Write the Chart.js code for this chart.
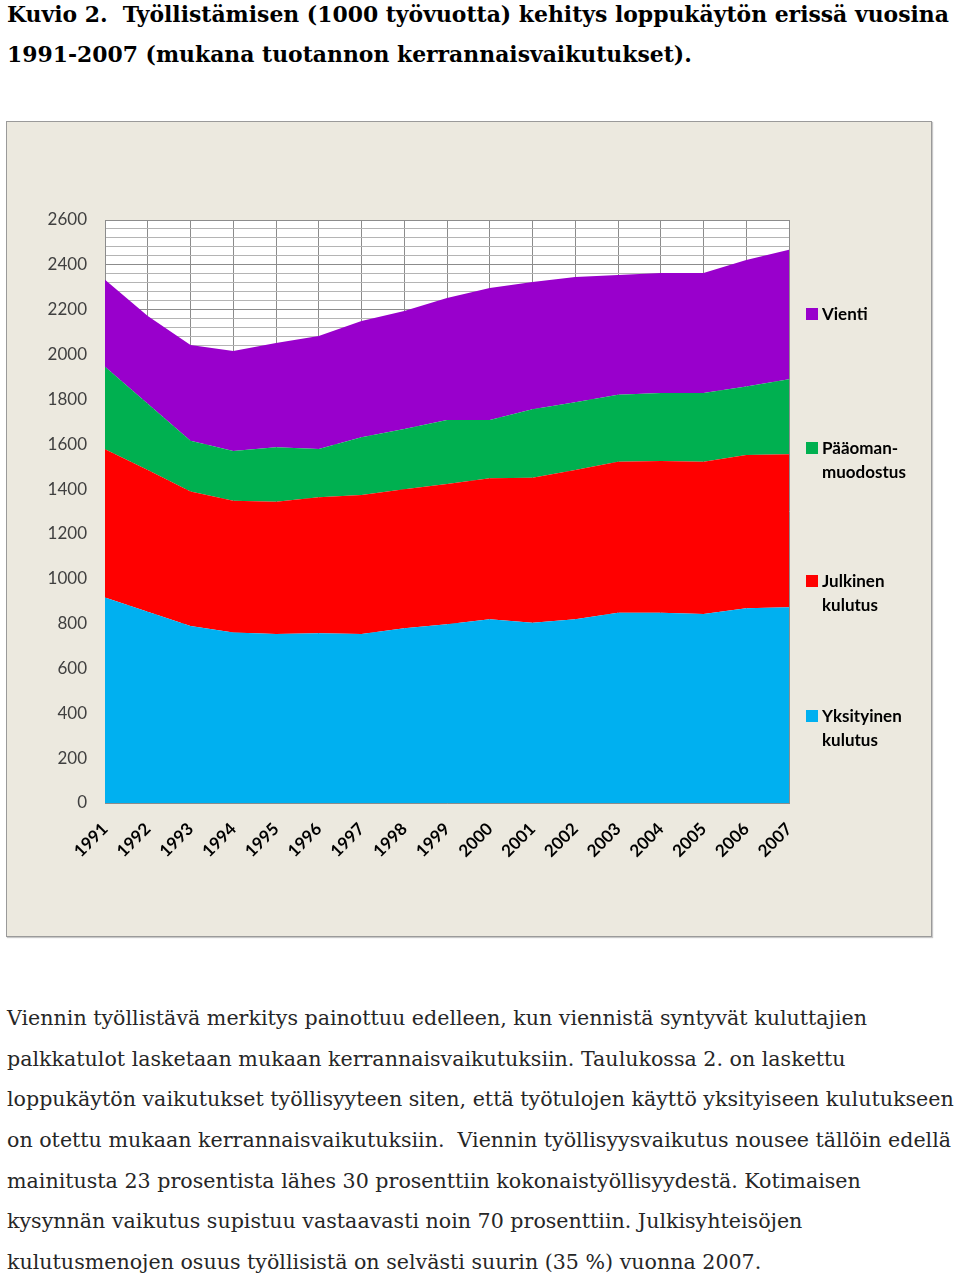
<!DOCTYPE html>
<html lang="fi">
<head>
<meta charset="UTF-8">
<title>Kuvio 2</title>
<script src="https://cdn.jsdelivr.net/npm/chart.js@4.4.1/dist/chart.umd.min.js"></script>
<style>
  body { margin: 0; background: #fff; width: 960px; height: 1277px; position: relative; overflow: hidden; }
  .title { position: absolute; left: 7px; font-family: "DejaVu Serif", serif; font-weight: bold; font-size: 21.9px; color: #000; white-space: nowrap; }
  #frame { position: absolute; left: 6px; top: 121px; width: 924px; height: 814px; border: 1px solid #9a9a9a; background: #ECE9DF; box-shadow: 1px 1px 1px #c8c8c8; }
  #chart { position: absolute; left: 0; top: 0; }
  .leg { position: absolute; left: 815px; font-family: Lato, sans-serif; font-weight: bold; font-size: 17px; line-height: 24px; color: #000; }
  .leg span.sw { position: absolute; left: -16px; top: 6px; width: 12px; height: 12px; }
  .body { position: absolute; left: 7px; font-family: "DejaVu Serif", serif; font-size: 20.6px; color: #262626; white-space: nowrap; }
</style>
</head>
<body>
<div class="title" style="top:1px">Kuvio 2.&nbsp; Työllistämisen (1000 työvuotta) kehitys loppukäytön erissä vuosina</div>
<div class="title" style="top:41px">1991-2007 (mukana tuotannon kerrannaisvaikutukset).</div>

<div id="frame">
  <canvas id="chart" width="924" height="814"></canvas>
  <div id="legend"></div>
</div>

<div class="body" style="top:1006px">Viennin työllistävä merkitys painottuu edelleen, kun viennistä syntyvät kuluttajien</div>
<div class="body" style="top:1047px">palkkatulot lasketaan mukaan kerrannaisvaikutuksiin. Taulukossa 2. on laskettu</div>
<div class="body" style="top:1087px">loppukäytön vaikutukset työllisyyteen siten, että työtulojen käyttö yksityiseen kulutukseen</div>
<div class="body" style="top:1128px">on otettu mukaan kerrannaisvaikutuksiin.&nbsp; Viennin työllisyysvaikutus nousee tällöin edellä</div>
<div class="body" style="top:1169px">mainitusta 23 prosentista lähes 30 prosenttiin kokonaistyöllisyydestä. Kotimaisen</div>
<div class="body" style="top:1209px">kysynnän vaikutus supistuu vastaavasti noin 70 prosenttiin. Julkisyhteisöjen</div>
<div class="body" style="top:1250px">kulutusmenojen osuus työllisistä on selvästi suurin (35 %) vuonna 2007.</div>

<script>
const years = ['1991','1992','1993','1994','1995','1996','1997','1998','1999',
               '2000','2001','2002','2003','2004','2005','2006','2007'];
const yksityinen = [917, 853, 789, 760, 754, 757, 754, 779, 797, 819, 804, 819, 849, 849, 843, 868, 873];
const julkinen   = [661, 632, 600, 588, 590, 606, 620, 620, 626, 629, 647, 666, 673, 676, 679, 684, 682];
const paaoman    = [368, 296, 226, 222, 242, 216, 257, 269, 285, 260, 305, 302, 299, 304, 306, 305, 335];
const vienti     = [387, 391, 428, 446, 466, 504, 519, 526, 544, 589, 568, 559, 534, 535, 536, 565, 577];
const yMax = 2600;
const yLabelStep = 200;
const yGridStep = 40;

const series = [
  { label: 'Yksityinen kulutus', lines: ['Yksityinen', 'kulutus'], data: yksityinen, color: '#00B0F0', fill: 'origin' },
  { label: 'Julkinen kulutus', lines: ['Julkinen', 'kulutus'], data: julkinen, color: '#FF0000', fill: '-1' },
  { label: 'Pääomanmuodostus', lines: ['Pääoman-', 'muodostus'], data: paaoman, color: '#00B050', fill: '-1' },
  { label: 'Vienti', lines: ['Vienti'], data: vienti, color: '#9900CC', fill: '-1' }
];

// legend items sit beside the plot, spread down the right side
const legendTops = [582, 447, 314, 180];
const leg = document.getElementById('legend');
series.forEach((s, i) => {
  const d = document.createElement('div');
  d.className = 'leg';
  d.style.top = legendTops[i] + 'px';
  d.innerHTML = '<span class="sw" style="background:' + s.color + '"></span>' + s.lines.join('<br>');
  leg.appendChild(d);
});

const ctx = document.getElementById('chart').getContext('2d');
new Chart(ctx, {
  type: 'line',
  data: {
    labels: years,
    datasets: series.map(s => ({
      label: s.label,
      data: s.data,
      backgroundColor: s.color,
      borderColor: s.color,
      borderWidth: 0,
      fill: s.fill,
      pointRadius: 0,
      tension: 0
    }))
  },
  plugins: [{
    id: 'plotBg',
    beforeDraw(chart) {
      const a = chart.chartArea;
      chart.ctx.save();
      chart.ctx.fillStyle = '#ffffff';
      chart.ctx.fillRect(a.left, a.top, a.right - a.left, a.bottom - a.top);
      chart.ctx.restore();
    }
  }],
  options: {
    responsive: false,
    animation: false,
    events: [],
    layout: { padding: { top: 98, right: 142, left: 0, bottom: 0 } },
    plugins: { legend: { display: false }, tooltip: { enabled: false } },
    scales: {
      x: {
        offset: false,
        afterFit(scale) { scale.height = 133; },
        grid: { color: '#8c8c8c', drawTicks: false, lineWidth: 1 },
        border: { color: '#8c8c8c' },
        ticks: {
          autoSkip: false,
          maxRotation: 45, minRotation: 45,
          padding: 16,
          color: '#000',
          font: { family: 'Lato', size: 17, weight: 'bold' }
        }
      },
      y: {
        stacked: true,
        min: 0, max: yMax,
        afterFit(scale) { scale.width = 98; },
        grid: {
          drawTicks: false,
          lineWidth: 1,
          color: c => (c.tick && c.tick.value % yLabelStep === 0) ? '#8c8c8c' : '#b4b4b4'
        },
        border: { color: '#8c8c8c' },
        ticks: {
          stepSize: yGridStep,
          maxTicksLimit: 200,
          autoSkip: false,
          padding: 18,
          color: '#404040',
          font: { family: 'Lato', size: 17 },
          callback: v => (v % yLabelStep === 0) ? String(v) : ''
        }
      }
    }
  }
});
</script>
</body>
</html>
